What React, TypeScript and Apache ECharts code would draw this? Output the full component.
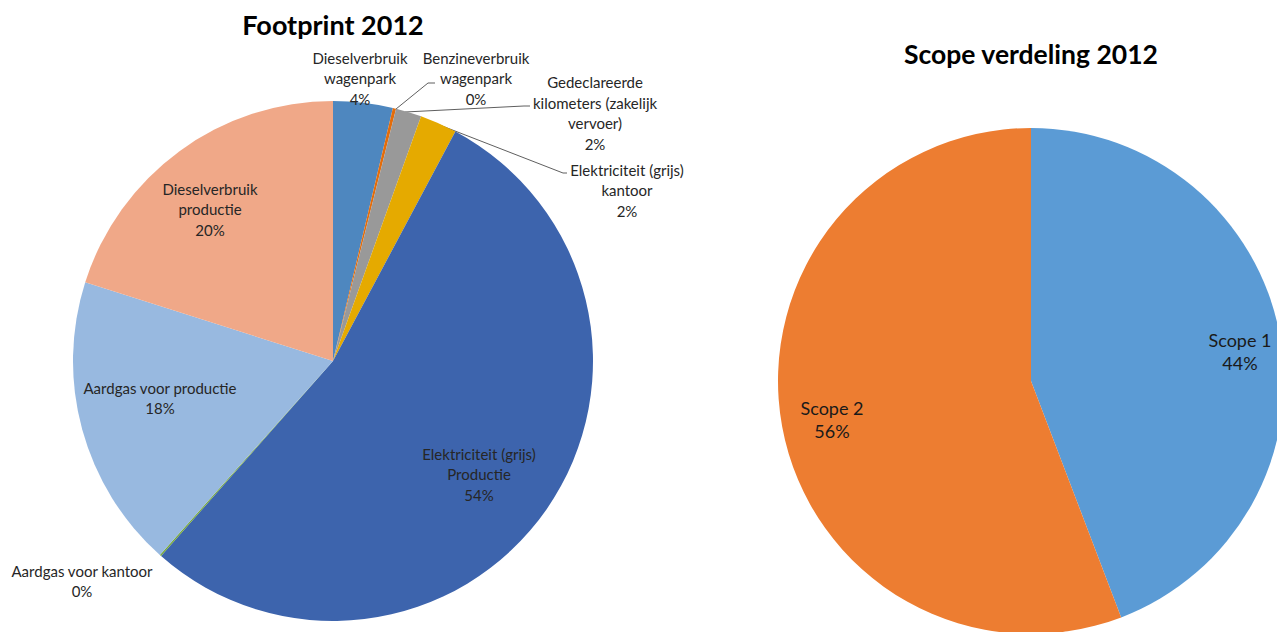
import React, { useEffect, useRef } from "react";
import * as echarts from "echarts";

// ---- Data ----
const footprintCategories = [
  "Dieselverbruik wagenpark",
  "Benzineverbruik wagenpark",
  "Gedeclareerde kilometers (zakelijk vervoer)",
  "Elektriciteit (grijs) kantoor",
  "Elektriciteit (grijs) Productie",
  "Aardgas voor kantoor",
  "Aardgas voor productie",
  "Dieselverbruik productie",
];
const footprintLabelText = [
  "Dieselverbruik\nwagenpark",
  "Benzineverbruik\nwagenpark",
  "Gedeclareerde\nkilometers (zakelijk\nvervoer)",
  "Elektriciteit (grijs)\nkantoor",
  "Elektriciteit (grijs)\nProductie",
  "Aardgas voor kantoor",
  "Aardgas voor productie",
  "Dieselverbruik\nproductie",
];
const footprintValues = [3.7, 0.2, 1.6, 2.3, 53.7, 0.1, 18.3, 20.1];
const footprintColors = [
  "#4E87BF",
  "#E36C0A",
  "#999999",
  "#E5AA00",
  "#3D64AD",
  "#77A83E",
  "#98B9E0",
  "#F0A888",
];

const scopeCategories = ["Scope 1", "Scope 2"];
const scopeValues = [44.2, 55.8];
const scopeColors = ["#5B9BD5", "#ED7D31"];

const titles = ["Footprint 2012", "Scope verdeling 2012"];

// ---- Layout (positions in px) ----
const footLabelPos: [number, number][] = [
  [360, 78],
  [476, 78],
  [595, 113],
  [627, 190],
  [479, 474],
  [82, 581],
  [160, 398],
  [210, 209],
];
const footLeader: Record<number, number[][]> = {
  1: [[396, 109], [428, 83], [435, 83]],
  2: [[405, 112], [524, 106], [530, 106]],
  3: [[437, 124], [563, 173], [567, 173]],
};
const scopeLabelPos: [number, number][] = [
  [1240, 351],
  [832, 419],
];

const FONT = "Lato, 'Open Sans', sans-serif";

export default function App() {
  const ref = useRef<HTMLDivElement>(null);

  useEffect(() => {
    if (!ref.current) return;
    const chart = echarts.init(ref.current, undefined, { renderer: "svg" });

    const insideIdx = [4, 6, 7];
    const noLineIdx = [0, 5];

    const option: any = {
      animation: false,
      backgroundColor: "#ffffff",
      title: [
        {
          text: titles[0],
          left: 333,
          top: 24,
          padding: 0,
          textAlign: "center",
          textVerticalAlign: "middle",
          textStyle: { fontFamily: FONT, fontWeight: "bold", fontSize: 27, color: "#000" },
        },
        {
          text: titles[1],
          left: 1031,
          top: 54,
          padding: 0,
          textAlign: "center",
          textVerticalAlign: "middle",
          textStyle: { fontFamily: FONT, fontWeight: "bold", fontSize: 26.5, color: "#000" },
        },
      ],
      series: [
        {
          type: "pie",
          center: [333, 361],
          radius: [0, 260],
          startAngle: 90,
          clockwise: true,
          avoidLabelOverlap: false,
          silent: true,
          itemStyle: { borderWidth: 0 },
          label: {
            show: true,
            position: "outside",
            fontFamily: FONT,
            fontSize: 15,
            lineHeight: 20.5,
            color: "#262626",
            align: "center",
            formatter: (p: any) =>
              `${footprintLabelText[p.dataIndex]}\n${Math.round(p.percent)}%`,
          },
          labelLine: {
            show: true,
            lineStyle: { color: "#5f5f5f", width: 1 },
          },
          labelLayout: (params: any) => {
            const i = params.dataIndex;
            const res: any = {
              x: footLabelPos[i][0],
              y: footLabelPos[i][1],
              align: "center",
              verticalAlign: "middle",
            };
            if (footLeader[i]) res.labelLinePoints = footLeader[i];
            return res;
          },
          data: footprintValues.map((v, i) => ({
            name: footprintCategories[i],
            value: v,
            itemStyle: { color: footprintColors[i] },
            label: insideIdx.includes(i) ? { position: "inside" } : undefined,
            labelLine: insideIdx.includes(i) || noLineIdx.includes(i) ? { show: false } : undefined,
          })),
        },
        {
          type: "pie",
          center: [1031, 381],
          radius: [0, 253],
          startAngle: 90,
          clockwise: true,
          avoidLabelOverlap: false,
          silent: true,
          itemStyle: { borderWidth: 0 },
          label: {
            show: true,
            position: "inside",
            fontFamily: FONT,
            fontSize: 18,
            lineHeight: 23,
            color: "#1a1a1a",
            align: "center",
            formatter: (p: any) => `${p.name}\n${Math.round(p.percent)}%`,
          },
          labelLine: { show: false },
          labelLayout: (params: any) => {
            const i = params.dataIndex;
            return {
              x: scopeLabelPos[i][0],
              y: scopeLabelPos[i][1],
              align: "center",
              verticalAlign: "middle",
            };
          },
          data: scopeValues.map((v, i) => ({
            name: scopeCategories[i],
            value: v,
            itemStyle: { color: scopeColors[i] },
          })),
        },
      ],
    };

    chart.setOption(option);
    return () => chart.dispose();
  }, []);

  return (
    <div
      ref={ref}
      style={{ position: "absolute", left: 0, top: 0, width: 1277, height: 632 }}
    />
  );
}
